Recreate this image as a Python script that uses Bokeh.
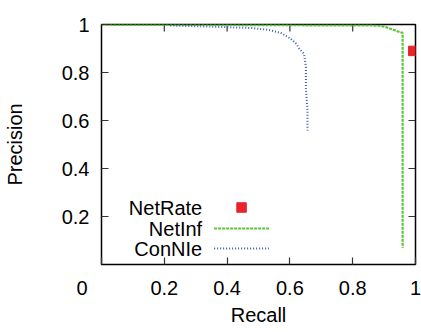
from bokeh.plotting import figure
from bokeh.models import Range1d, FixedTicker
from bokeh.core.properties import value
from bokeh.embed import file_html
from bokeh.resources import INLINE

# NetRate single point
netrate_recall = [0.993]
netrate_precision = [0.89]

# NetInf curve
netinf_recall = [0.0, 0.2, 0.4, 0.6, 0.8, 0.86, 0.889, 0.905, 0.92, 0.932, 0.942, 0.952, 0.959, 0.959, 0.959]
netinf_precision = [0.999, 0.998, 0.998, 0.997, 0.996, 0.996, 0.994, 0.99, 0.982, 0.977, 0.972, 0.968, 0.965, 0.5, 0.07]

# ConNIe curve
connie_recall = [0.219, 0.3, 0.4, 0.48, 0.53, 0.571, 0.603, 0.62, 0.63, 0.645, 0.651, 0.651, 0.654, 0.656, 0.656]
connie_precision = [0.996, 0.993, 0.989, 0.985, 0.978, 0.965, 0.94, 0.92, 0.899, 0.878, 0.822, 0.732, 0.68, 0.642, 0.558]

series_names = ["NetRate", "NetInf", "ConNIe"]
x_ticks = [0.0, 0.2, 0.4, 0.6, 0.8, 1.0]
y_ticks = [0.2, 0.4, 0.6, 0.8, 1.0]
NB = "\u00a0"
x_tick_labels = {0.0: "0" + NB * 7, 0.2: "0.2", 0.4: "0.4", 0.6: "0.6", 0.8: "0.8", 1.0: "1"}
y_tick_labels = {0.2: "0.2", 0.4: "0.4", 0.6: "0.6", 0.8: "0.8", 1.0: "1"}

FONT = "Liberation Sans"
RED, GREEN, BLUE = "#e8232a", "#5ec23a", "#3a5cb8"
FW, FH = 315, 240  # frame size in px

p = figure(width=421, height=332, output_backend="svg", toolbar_location=None,
           x_range=Range1d(0, 1), y_range=Range1d(0, 1),
           min_border_left=100, min_border_right=6, min_border_top=24, min_border_bottom=68,
           x_axis_label="Recall", y_axis_label="Precision")
p.grid.visible = False
p.outline_line_color = "black"
p.outline_line_width = 1.5
p.background_fill_color = "white"
p.border_fill_color = "white"

for ax, tk, lb in ((p.xaxis[0], x_ticks, x_tick_labels), (p.yaxis[0], y_ticks, y_tick_labels)):
    ax.ticker = FixedTicker(ticks=tk)
    ax.major_label_overrides = lb
    ax.major_tick_in = 7
    ax.major_tick_out = 0
    ax.minor_tick_in = 0
    ax.minor_tick_out = 0
    ax.axis_line_color = None
    ax.major_tick_line_color = "#333333"
    ax.major_tick_line_width = 1.2
    ax.major_label_text_font = FONT
    ax.major_label_text_font_size = "20px"
    ax.major_label_text_color = "black"
    ax.axis_label_text_font = FONT
    ax.axis_label_text_font_size = "20px"
    ax.axis_label_text_font_style = "normal"
    ax.axis_label_text_color = "black"
p.xaxis[0].major_label_standoff = 12
p.xaxis[0].axis_label_standoff = 2
p.yaxis[0].major_label_standoff = 12
p.yaxis[0].axis_label_standoff = 33

# mirrored ticks on top and right edges
inner = y_ticks[:-1]
p.segment(x0=inner, y0=[1] * len(inner), x1=inner, y1=[1 - 7 / FH] * len(inner),
          line_color="#333333", line_width=1.2)
p.segment(x0=[1] * len(inner), y0=inner, x1=[1 - 7 / FW] * len(inner), y1=inner,
          line_color="#333333", line_width=1.2)

p.line(netinf_recall, netinf_precision, line_color=GREEN, line_width=2.2, line_dash="3 1")
p.line(connie_recall, connie_precision, line_color=BLUE, line_width=2, line_dash="1 2")
p.scatter(netrate_recall, netrate_precision, marker="square", size=9.5, fill_color=RED, line_color=RED)

# gnuplot-style key: text right-aligned, sample on the right
key_text_x = 101 / FW
key_rows = [57 / FH, 36 / FH, 16 / FH]
p.text(x=[key_text_x] * 3, y=key_rows, text=series_names, text_font=value(FONT),
       text_font_size="20px", text_align="right", text_baseline="middle", text_color="black")
s0, s1 = 113 / FW, 168 / FW
p.scatter([(s0 + s1) / 2], [key_rows[0]], marker="square", size=9.5, fill_color=RED, line_color=RED)
p.line([s0, s1], [key_rows[1]] * 2, line_color=GREEN, line_width=2.2, line_dash="3 1")
p.line([s0, s1], [key_rows[2]] * 2, line_color=BLUE, line_width=2, line_dash="1 2")

open("out.html", "w").write(file_html(p, INLINE))
